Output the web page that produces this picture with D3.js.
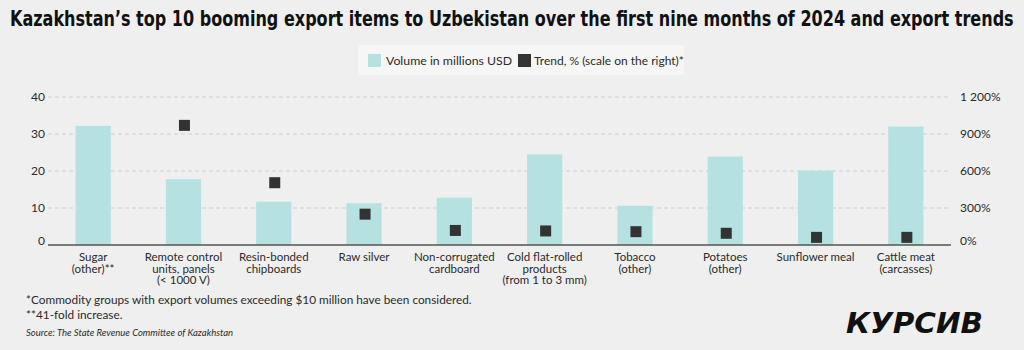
<!DOCTYPE html>
<html>
<head>
<meta charset="utf-8">
<script src="https://cdn.jsdelivr.net/npm/d3@7"></script>
<style>
  html, body { margin: 0; padding: 0; background: #efefef; }
  svg { display: block; }
  text { font-family: Lato, "Noto Sans", sans-serif; fill: #2b2b2b; }
</style>
</head>
<body>
<svg id="chart" width="1024" height="350"></svg>
<script>
// Export items (labels split into lines)
const categories = [
  ["Sugar", "(other)**"],
  ["Remote control", "units, panels", "(< 1000 V)"],
  ["Resin-bonded", "chipboards"],
  ["Raw silver"],
  ["Non-corrugated", "cardboard"],
  ["Cold flat-rolled", "products", "(from 1 to 3 mm)"],
  ["Tobacco", "(other)"],
  ["Potatoes", "(other)"],
  ["Sunflower meal"],
  ["Cattle meat", "(carcasses)"]
];
// Export volume, millions USD
const volume = [32.2, 17.8, 11.7, 11.3, 12.8, 24.5, 10.6, 23.9, 20.1, 32.0];
// Trend, % (sugar: 41-fold increase, beyond the scale)
const trend = [null, 970, 505, 250, 118, 114, 108, 95, 62, 62];
const leftTicks = [0, 10, 20, 30, 40];
const rightTicks = [0, 300, 600, 900, 1200];

const svg = d3.select("#chart");

const x = d3.scaleBand()
  .domain(d3.range(categories.length))
  .range([48, 951])
  .paddingInner(0.61)
  .paddingOuter(0.305);

const yL = d3.scaleLinear().domain([0, 40]).range([245, 97]);
const yR = d3.scaleLinear().domain([0, 1200]).range([245, 97]);

// Title: condensed bold, squeezed horizontally to span the page width
const title = svg.append("text")
  .attr("x", 0).attr("y", 0)
  .style("font-family", "'Liberation Sans Narrow', 'DejaVu Sans Condensed', Lato, sans-serif")
  .style("font-size", "22px").style("font-weight", "bold").style("fill", "#111")
  .text("Kazakhstan’s top 10 booming export items to Uzbekistan over the first nine months of 2024 and export trends");
const tw = title.node().getComputedTextLength();
const sx = Math.min(1, 1004 / tw);
title.attr("transform", `translate(10,26) scale(${sx},1)`);

// Legend
const lg = svg.append("g");
lg.append("rect").attr("x", 358).attr("y", 45).attr("width", 326).attr("height", 30)
  .attr("rx", 4).attr("fill", "#f6f6f6");
lg.append("rect").attr("x", 368).attr("y", 54).attr("width", 13).attr("height", 13).attr("fill", "#b5e2e0");
lg.append("text").attr("x", 386).attr("y", 64.5).style("font-size", "12.3px").text("Volume in millions USD");
lg.append("rect").attr("x", 518).attr("y", 54).attr("width", 13).attr("height", 13).attr("fill", "#333");
lg.append("text").attr("x", 534).attr("y", 64.5).style("font-size", "12px").text("Trend, % (scale on the right)*");

// Gridlines
svg.append("g").selectAll("line")
  .data(leftTicks.filter(d => d > 0))
  .join("line")
  .attr("x1", 48).attr("x2", 951)
  .attr("y1", d => yL(d)).attr("y2", d => yL(d))
  .attr("stroke", "#cfcfcf").attr("stroke-width", 1).attr("stroke-dasharray", "4,3");

// Bars
svg.append("g").selectAll("rect")
  .data(volume)
  .join("rect")
  .attr("x", (d, i) => x(i))
  .attr("width", x.bandwidth())
  .attr("y", d => yL(d))
  .attr("height", d => yL(0) - yL(d))
  .attr("fill", "#b5e2e0");

// Trend markers
const ms = 11;
svg.append("g").selectAll("rect")
  .data(trend.map((v, i) => ({ v, i })).filter(d => d.v !== null))
  .join("rect")
  .attr("x", d => x(d.i) + x.bandwidth() / 2 - ms / 2 + 1)
  .attr("y", d => yR(d.v) - ms / 2)
  .attr("width", ms).attr("height", ms)
  .attr("fill", "#333");

// Baseline
svg.append("line")
  .attr("x1", 48).attr("x2", 951)
  .attr("y1", yL(0)).attr("y2", yL(0))
  .attr("stroke", "#555").attr("stroke-width", 1.5);

// Left axis
const axL = svg.append("g").attr("transform", "translate(45,0)")
  .call(d3.axisLeft(yL).tickValues(leftTicks).tickSize(0).tickPadding(0));
axL.select(".domain").remove();
axL.selectAll("text").style("font-size", "12px").style("font-family", "Lato, sans-serif").attr("fill", "#2b2b2b")
  .attr("dy", d => d === 0 ? "-0.05em" : "0.32em");

// Right axis
const fmt = d3.formatLocale({ decimal: ".", thousands: " ", grouping: [3], currency: ["", ""] }).format(",");
const axR = svg.append("g").attr("transform", "translate(960,0)")
  .call(d3.axisRight(yR).tickValues(rightTicks).tickSize(0).tickPadding(0).tickFormat(d => fmt(d) + "%"));
axR.select(".domain").remove();
axR.selectAll("text").style("font-size", "12px").style("font-family", "Lato, sans-serif").attr("fill", "#2b2b2b")
  .attr("dy", d => d === 0 ? "-0.05em" : "0.32em");

// Category labels
const cl = svg.append("g").selectAll("text")
  .data(categories)
  .join("text")
  .attr("x", (d, i) => x(i) + x.bandwidth() / 2)
  .attr("y", 261)
  .attr("text-anchor", "middle")
  .style("font-size", "11.5px");
cl.selectAll("tspan")
  .data(d => d)
  .join("tspan")
  .attr("x", function () { return this.parentNode.getAttribute("x"); })
  .attr("dy", (d, i) => i === 0 ? 0 : 11.5)
  .text(d => d);

// Footnotes
svg.append("text").attr("x", 26).attr("y", 304).style("font-size", "11.8px")
  .text("*Commodity groups with export volumes exceeding $10 million have been considered.");
svg.append("text").attr("x", 26).attr("y", 319).style("font-size", "11.8px")
  .text("**41-fold increase.");
svg.append("text").attr("x", 26).attr("y", 336).style("font-size", "9.5px").style("font-style", "italic")
  .text("Source: The State Revenue Committee of Kazakhstan");

// Logo
svg.append("text").attr("x", 846).attr("y", 333)
  .attr("textLength", 137).attr("lengthAdjust", "spacingAndGlyphs")
  .style("font-family", "'DejaVu Sans', sans-serif")
  .style("font-size", "28px").style("font-weight", "bold").style("font-style", "italic").style("fill", "#111")
  .text("КУРСИВ");
</script>
</body>
</html>
